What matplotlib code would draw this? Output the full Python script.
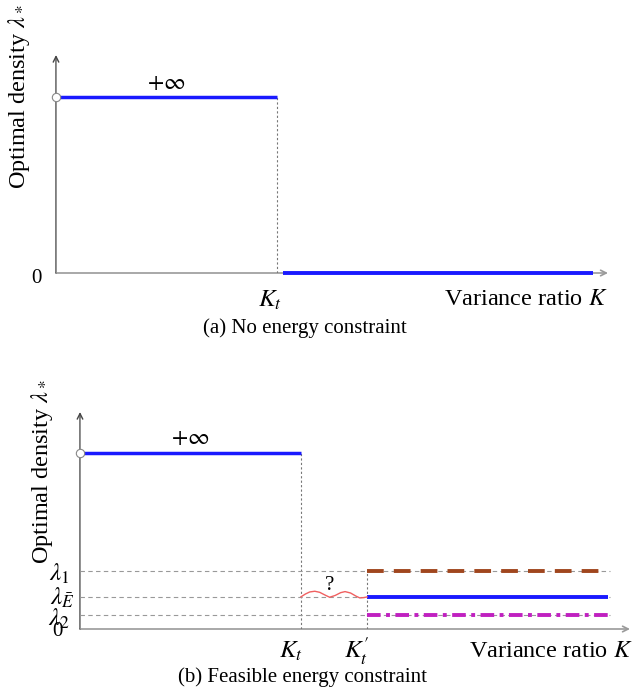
import numpy as np
import matplotlib
matplotlib.use('Agg')
import matplotlib.pyplot as plt

plt.rcParams['font.family'] = ['Liberation Serif', 'DejaVu Serif']
plt.rcParams['mathtext.fontset'] = 'stix'

# abstract levels (K_t = 1, "infinity" level = 1)
k_t = 1.0
k_t_prime = 1.30
k_end_a = 2.43
k_end_b = 2.39
inf_level = 1.0
lam_1 = 0.33
lam_e = 0.18
lam_2 = 0.08

# the "?" wiggle between K_t and K_t'
wave_k = [1.00, 1.02, 1.04, 1.063, 1.085, 1.11, 1.13, 1.155, 1.18, 1.20, 1.225, 1.25, 1.267, 1.285, 1.30]
wave_lam = [0.182, 0.198, 0.210, 0.214, 0.208, 0.192, 0.180, 0.190, 0.206, 0.212, 0.204, 0.186, 0.176, 0.178, 0.182]

W, H = 634, 694
axis_col = '#9a9a9a'
blue = '#1a1aff'


def make_axes(fig, left, top, right, bottom, xmax, ymax):
    ax = fig.add_axes([left / W, 1 - bottom / H, (right - left) / W, (bottom - top) / H])
    ax.set_xlim(0, xmax)
    ax.set_ylim(0, ymax)
    ax.axis('off')
    # axes drawn as arrows
    ax.annotate('', xy=(xmax, 0), xytext=(0, 0), zorder=1,
                arrowprops=dict(arrowstyle='->', color=axis_col, lw=1.2, shrinkA=0, shrinkB=0))
    ax.annotate('', xy=(0, ymax), xytext=(0, 0), zorder=1,
                arrowprops=dict(arrowstyle='->', color='#444444', lw=1.0, shrinkA=0, shrinkB=0))
    ax.plot([0, 0], [0, ymax * 0.97], color=axis_col, lw=1.2, zorder=2)
    return ax


fig = plt.figure(figsize=(W / 100, H / 100), dpi=100)

# ---- (a) no energy constraint ----
ax1 = make_axes(fig, 56, 55, 608, 273, 2.5, 1.24)
ax1.plot([0, k_t], [inf_level, inf_level], color=blue, lw=2.5, solid_capstyle='butt', zorder=5)
ax1.plot([k_t + 0.03, k_end_a], [0, 0], color=blue, lw=2.8, solid_capstyle='butt', zorder=5,
         clip_on=False)
ax1.plot([k_t, k_t], [0, inf_level], color='#777777', lw=0.8, ls=(0, (2, 2)))
ax1.plot([0], [inf_level], 'o', mfc='white', mec='#888888', ms=6, mew=0.8, clip_on=False, zorder=6)
ax1.text(0.5, inf_level + 0.02, r'$+\infty$', fontsize=17, ha='center', va='bottom')
ax1.text(-0.063, -0.03, '0', fontsize=15, ha='right', va='center')
ax1.text(k_t - 0.03, -0.153, r'$K_t$', fontsize=18, ha='center', va='center')
ax1.text(2.50, -0.153, r'Variance ratio $K$', fontsize=17.5, ha='right', va='center')
fig.text(19 / W, 1 - 97 / H, r'Optimal density $\lambda_*$', rotation=90,
         fontsize=17.5, ha='center', va='center')
fig.text(305 / W, 1 - 328 / H, '(a) No energy constraint', fontsize=15,
         ha='center', va='center')

# ---- (b) feasible energy constraint ----
ax2 = make_axes(fig, 80, 412, 630, 629, 2.49, 1.23)
ax2.plot([0, k_t], [inf_level, inf_level], color=blue, lw=2.5, solid_capstyle='butt', zorder=5)
ax2.plot([k_t, k_t], [0, inf_level], color='#777777', lw=0.8, ls=(0, (2, 2)))
ax2.plot([k_t_prime, k_t_prime], [0, lam_1], color='#777777', lw=0.8, ls=(0, (2, 2)))
for lev in [lam_1, lam_e, lam_2]:
    ax2.plot([0, k_end_b + 0.01], [lev, lev], color='#999999', lw=0.8, ls=(0, (4, 3)))
ax2.plot([k_t_prime, k_end_b], [lam_1, lam_1], color='#a0461e', lw=2.8, ls=(0, (4.3, 2.6)), zorder=5)
ax2.plot([k_t_prime, k_end_b], [lam_e, lam_e], color=blue, lw=2.8, solid_capstyle='butt', zorder=5)
ax2.plot([k_t_prime, k_end_b], [lam_2, lam_2], color='#c020c0', lw=2.8,
         ls=(0, (3.5, 1.4, 1, 1.4)), zorder=5)
ax2.plot(wave_k, wave_lam, color='#f06060', lw=1.0, zorder=5)
ax2.plot([0], [inf_level], 'o', mfc='white', mec='#888888', ms=6, mew=0.8, clip_on=False, zorder=6)
ax2.text(0.5, inf_level + 0.02, r'$+\infty$', fontsize=17, ha='center', va='bottom')
ax2.text(1.13, 0.244, '?', fontsize=15, ha='center', va='center')
ax2.text(-0.045, 0.31, r'$\lambda_1$', fontsize=18, ha='right', va='center')
ax2.text(-0.023, 0.176, r'$\lambda_{\bar{E}}$', fontsize=18, ha='right', va='center')
ax2.text(-0.045, 0.06, r'$\lambda_2$', fontsize=18, ha='right', va='center')
ax2.text(-0.077, -0.015, '0', fontsize=15, ha='right', va='center')
ax2.text(k_t - 0.045, -0.125, r'$K_t$', fontsize=18, ha='center', va='center')
ax2.text(k_t_prime - 0.05, -0.125, r"$K^{\prime}_{t}$", fontsize=18, ha='center', va='center')
ax2.text(2.50, -0.125, r'Variance ratio $K$', fontsize=17.5, ha='right', va='center')
fig.text(42 / W, 1 - 472 / H, r'Optimal density $\lambda_*$', rotation=90,
         fontsize=17.5, ha='center', va='center')
fig.text(303 / W, 1 - 677 / H, '(b) Feasible energy constraint', fontsize=15,
         ha='center', va='center')

fig.savefig('out.png', dpi=100)
